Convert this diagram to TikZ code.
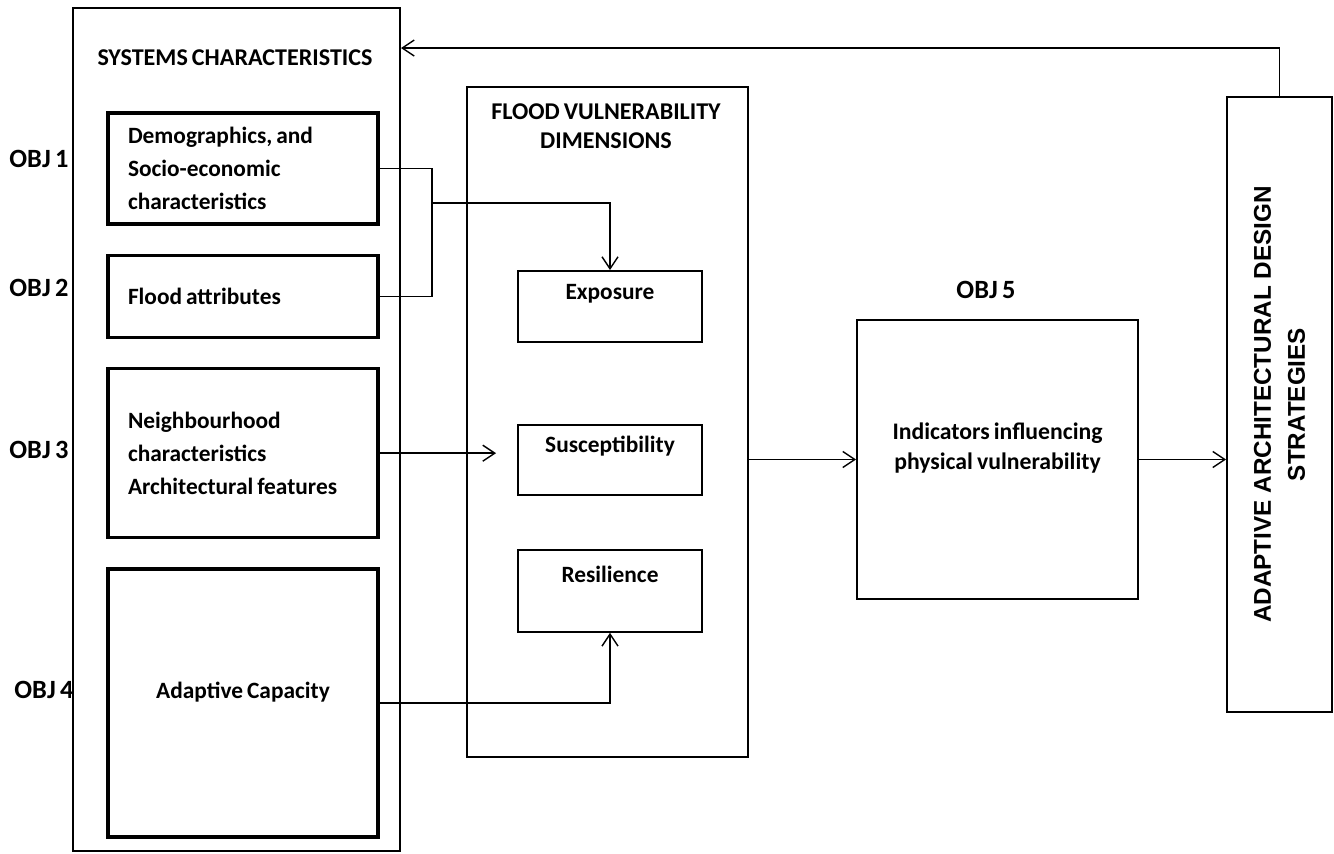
\documentclass[tikz,border=0pt]{standalone}
\usepackage{fontspec}
\setmainfont{Carlito}[WordSpace=0.75]
\newfontfamily\stratfont{Liberation Sans}
\usetikzlibrary{positioning,calc,arrows.meta}

\begin{document}
\begin{tikzpicture}[->, >={Straight Barb[length=2.4mm,width=3.2mm]}, line width=0.8pt, node distance=0.56cm, font=\bfseries\fontsize{13.3}{18.8}\selectfont, outer/.style={draw, line width=1.1pt, inner sep=0pt}, objbox/.style={draw, line width=1.9pt, minimum width=5.4cm, text width=4.6cm, align=flush left, inner sep=0pt}, dimbox/.style={draw, line width=1.1pt, minimum width=3.68cm, inner sep=0pt, text height=0.56cm, text depth=0.86cm}, objlabel/.style={inner sep=0pt, font=\bfseries\fontsize{15}{18}\selectfont}, heading/.style={align=center, font=\bfseries\fontsize{13.7}{16.5}\selectfont}]

\useasboundingbox (0,0) rectangle (26.68,-17.06);

% systems characteristics
\node[outer, minimum width=6.54cm, minimum height=16.86cm] (sys) at (4.73,-8.59) {};
\node[heading] (systitle) at (4.7,-1.16) {SYSTEMS CHARACTERISTICS};
\node[objbox, minimum height=2.22cm] (demo) at (4.86,-3.37) {Demographics, and\\Socio-economic\\characteristics};
\node[objbox, minimum height=1.64cm] (flood) [below=of demo] {Flood attributes};
\node[objbox, minimum height=3.38cm] (nbhd) [below=of flood] {Neighbourhood\\characteristics\\Architectural features};
\node[objbox, minimum height=5.36cm, align=flush center, text depth=0.5cm] (adapt) [below=of nbhd] {Adaptive Capacity};

\node[objlabel] (obj1) at (0.78,-3.18) {OBJ 1};
\node[objlabel] (obj2) at (0.78,-5.76) {OBJ 2};
\node[objlabel] (obj3) at (0.78,-9.0) {OBJ 3};
\node[objlabel] (obj4) at (0.88,-13.8) {OBJ 4};

% vulnerability dimensions
\node[outer, minimum width=5.62cm, minimum height=13.4cm] (fv) at (12.15,-8.44) {};
\node[heading] (fvtitle) at (12.12,-2.53) {FLOOD VULNERABILITY\\DIMENSIONS};
\node[dimbox] (expo) at (12.2,-6.13) {Exposure};
\node[dimbox, text depth=0.84cm] (susc) [below=1.62cm of expo] {Susceptibility};
\node[dimbox, text height=0.66cm, text depth=0.98cm] (resil) [below=1.06cm of susc] {Resilience};

% indicators
\node[objlabel] (obj5) at (19.72,-5.8) {OBJ 5};
\node[outer, minimum width=5.62cm, minimum height=5.58cm] (ind) at (19.95,-9.19) {};
\node[align=center, font=\bfseries\fontsize{13.5}{17}\selectfont] (indtext) at ([yshift=0.23cm]ind.center) {Indicators influencing\\physical vulnerability};

% strategies
\node[outer, minimum width=2.1cm, minimum height=12.3cm] (strat) at (25.59,-8.09) {};
\node[rotate=90, align=center, font=\stratfont\bfseries\fontsize{13.8}{19.4}\selectfont] (strattext) at (strat.center) {ADAPTIVE ARCHITECTURAL DESIGN\\STRATEGIES};

\coordinate (jn) at (8.64,-4.06);

\draw[-] (demo.east) -- (demo.east -| jn) -- (flood.east -| jn) -- (flood.east);
\draw (jn) -| (expo.north);
\draw[shorten >=0.42cm] (nbhd.east) -- (nbhd.east -| susc.west);
\draw (adapt.east) -| (resil.south);
\draw (fv.east |- ind.west) -- (ind.west);
\draw (ind.east) -- (ind.east -| strat.west);
\draw (strat.north) |- ([yshift=-0.82cm]sys.north east);
\end{tikzpicture}
\end{document}
